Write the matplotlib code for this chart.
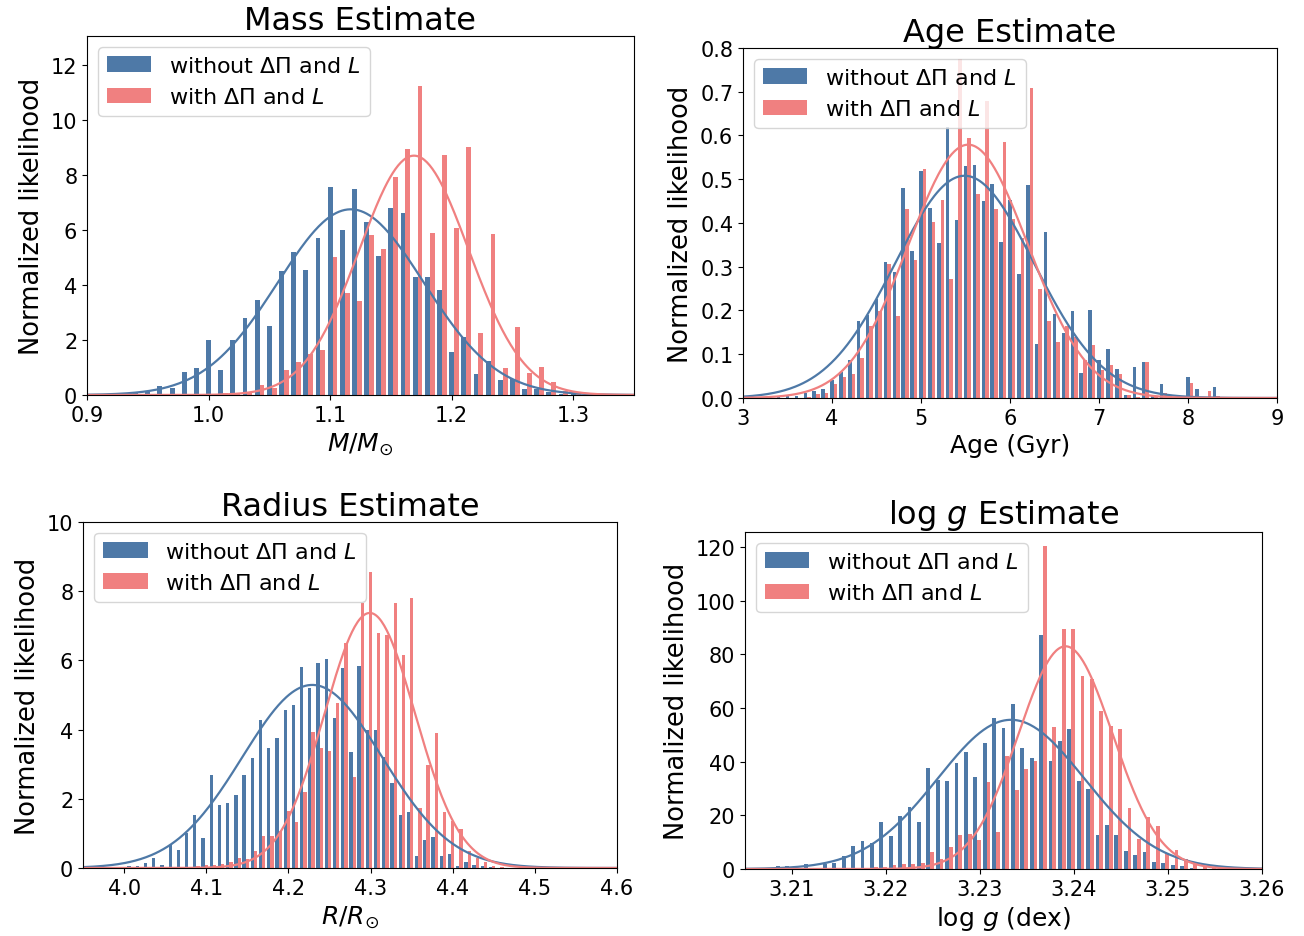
import numpy as np
import matplotlib
matplotlib.use("Agg")
import matplotlib.pyplot as plt

blue = '#4e79a7'
red = '#f08080'
lab_wo = r'without $\Delta\Pi$ and $L$'
lab_w = r'with $\Delta\Pi$ and $L$'

# Mass histogram (bin centres start at mass_start, one bin per value)
mass_start = 0.92
mass_step = 0.01
mass_wo = [0.04, 0.06, 0.1, 0.16, 0.32, 0.25, 0.85, 0.97, 2.0, 0.9,
           2.0, 2.8, 3.45, 2.5, 4.5, 5.2, 4.55, 5.7, 7.55, 6.0,
           7.5, 6.3, 5.07, 6.8, 6.6, 4.3, 4.3, 3.8, 1.57, 2.1,
           0.76, 1.25, 0.55, 0.58, 0.22, 0.22, 0.1, 0.05, 0.02]
mass_w = [0.0, 0.0, 0.02, 0.02, 0.03, 0.03, 0.04, 0.05, 0.05, 0.06,
          0.08, 0.12, 0.36, 0.24, 0.9, 1.2, 1.5, 1.65, 5.0, 3.7,
          3.43, 5.83, 5.3, 7.94, 8.95, 11.25, 5.9, 8.73, 6.07, 9.03,
          2.24, 5.85, 0.97, 2.48, 0.8, 1.0, 0.46, 0.15, 0.05]
mass_fit_wo = [6.75, 1.117, 0.060]   # amplitude, mean, sigma
mass_fit_w = [8.7, 1.169, 0.045]

# Age histogram
age_start = 3.4
age_step = 0.1
age_wo = [0.002, 0.004, 0.005, 0.011, 0.015, 0.021, 0.041, 0.06, 0.086, 0.177,
          0.19, 0.227, 0.31, 0.288, 0.479, 0.336, 0.518, 0.435, 0.354, 0.619,
          0.406, 0.53, 0.533, 0.451, 0.489, 0.356, 0.453, 0.284, 0.487, 0.124,
          0.38, 0.193, 0.148, 0.198, 0.057, 0.202, 0.086, 0.112, 0.066, 0.007,
          0.07, 0.083, 0.005, 0.033, 0.005, 0.003, 0.049, 0.02, 0.003, 0.026, 0.0]
age_w = [0.0, 0.001, 0.001, 0.003, 0.009, 0.012, 0.033, 0.049, 0.055, 0.091,
         0.164, 0.198, 0.306, 0.187, 0.432, 0.315, 0.523, 0.403, 0.453, 0.271,
         0.774, 0.594, 0.466, 0.678, 0.432, 0.586, 0.41, 0.365, 0.709, 0.25,
         0.177, 0.127, 0.165, 0.14, 0.086, 0.12, 0.063, 0.075, 0.055, 0.007,
         0.003, 0.082, 0.003, 0.012, 0.0, 0.0, 0.034, 0.0, 0.015, 0.005, 0.0]
age_fit_wo = [0.508, 5.49, 0.78]
age_fit_w = [0.579, 5.53, 0.67]

# Radius histogram
rad_start = 4.006
rad_step = 0.01
rad_wo = [0.05, 0.07, 0.14, 0.28, 0.09, 0.67, 0.52, 1.0, 1.53, 0.87,
          2.7, 1.82, 1.88, 2.12, 2.69, 3.17, 4.29, 3.46, 3.75, 4.57,
          4.7, 5.82, 5.2, 5.93, 6.04, 4.33, 5.78, 3.34, 5.85, 4.0,
          4.0, 3.2, 2.46, 1.53, 1.62, 0.36, 0.81, 0.9, 0.36, 0.39,
          0.07, 0.17, 0.1, 0.06, 0.03, 0.0]
rad_w = [0.0, 0.0, 0.0, 0.01, 0.01, 0.02, 0.02, 0.03, 0.05, 0.08,
         0.1, 0.12, 0.17, 0.28, 0.25, 0.5, 0.93, 0.93, 1.06, 1.66,
         1.32, 2.21, 3.94, 3.46, 3.37, 4.77, 6.49, 2.63, 7.65, 8.56,
         6.79, 6.72, 7.65, 6.16, 7.8, 1.73, 2.98, 3.9, 1.61, 1.36,
         1.12, 0.5, 0.3, 0.17, 0.07, 0.03]
rad_fit_wo = [5.29, 4.229, 0.085]
rad_fit_w = [7.37, 4.299, 0.055]

# log g histogram
logg_start = 3.2085
logg_step = 0.001
logg_wo = [1.2, 1.2, 0.0, 1.7, 0.5, 1.9, 2.3, 5.0, 8.7, 10.3,
           9.6, 17.6, 12.2, 19.9, 23.2, 17.6, 37.5, 33.3, 32.9, 39.5,
           43.5, 34.2, 46.8, 56.2, 52.4, 61.5, 45.1, 41.3, 87.2, 40.4,
           47.7, 52.2, 32.9, 29.8, 12.7, 16.4, 12.7, 6.8, 5.2, 6.2,
           2.7, 2.1, 1.5, 1.0, 0.5, 0.0, 0.0]
logg_w = [0.0, 0.0, 0.0, 0.0, 0.0, 0.2, 0.3, 0.3, 0.4, 0.5,
          0.6, 0.8, 1.4, 1.7, 1.8, 2.3, 6.2, 3.7, 8.1, 12.6,
          13.0, 10.9, 32.5, 13.7, 42.1, 29.6, 37.2, 40.3, 120.3, 52.8,
          89.5, 89.5, 72.0, 70.8, 59.0, 53.2, 52.2, 22.6, 11.0, 19.5,
          16.2, 5.8, 7.2, 3.8, 2.0, 1.0, 0.4]
logg_fit_wo = [55.6, 3.2333, 0.0078]
logg_fit_w = [83.0, 3.2391, 0.0050]


def gauss(x, p):
    return p[0] * np.exp(-(x - p[1])**2 / (2 * p[2]**2))


def panel(ax, start, step, h_wo, h_w, fit_wo, fit_w, xlim, ylim, xticks, title, xlabel):
    centres = start + step * np.arange(len(h_wo))
    w = 0.4 * step
    ax.bar(centres, h_wo, width=w, color=blue, label=lab_wo)
    ax.bar(centres + w, h_w, width=w, color=red, label=lab_w)
    xx = np.linspace(xlim[0], xlim[1], 400)
    ax.plot(xx, gauss(xx, fit_wo), color=blue, lw=1.6)
    ax.plot(xx, gauss(xx, fit_w), color=red, lw=1.6)
    ax.set_xlim(xlim)
    ax.set_ylim(ylim)
    ax.set_xticks(xticks)
    ax.set_title(title, fontsize=23, pad=5)
    ax.set_xlabel(xlabel, fontsize=18)
    ax.set_ylabel('Normalized likelihood', fontsize=18.5)
    ax.tick_params(labelsize=15)
    ax.legend(loc='upper left', fontsize=16)


fig = plt.figure(figsize=(13.04, 9.37), dpi=100)
ax1 = fig.add_axes([0.0667, 0.5774, 0.4195, 0.3831])
ax2 = fig.add_axes([0.5698, 0.5742, 0.4095, 0.3735])
ax3 = fig.add_axes([0.0637, 0.0726, 0.4095, 0.3693])
ax4 = fig.add_axes([0.5713, 0.0715, 0.3965, 0.3597])

panel(ax1, mass_start, mass_step, mass_wo, mass_w, mass_fit_wo, mass_fit_w,
      (0.9, 1.35), (0, 13.05), [0.9, 1.0, 1.1, 1.2, 1.3], 'Mass Estimate', r'$M/M_{\odot}$')
ax1.set_yticks([0, 2, 4, 6, 8, 10, 12])

panel(ax2, age_start, age_step, age_wo, age_w, age_fit_wo, age_fit_w,
      (3, 9), (0, 0.8), [3, 4, 5, 6, 7, 8, 9], 'Age Estimate', 'Age (Gyr)')

panel(ax3, rad_start, rad_step, rad_wo, rad_w, rad_fit_wo, rad_fit_w,
      (3.95, 4.6), (0, 10), [4.0, 4.1, 4.2, 4.3, 4.4, 4.5, 4.6], 'Radius Estimate', r'$R/R_{\odot}$')

panel(ax4, logg_start, logg_step, logg_wo, logg_w, logg_fit_wo, logg_fit_w,
      (3.205, 3.26), (0, 125.6), [3.21, 3.22, 3.23, 3.24, 3.25, 3.26], r'log $g$ Estimate', r'log $g$ (dex)')
ax4.set_yticks([0, 20, 40, 60, 80, 100, 120])

fig.savefig('out.png', dpi=100)
